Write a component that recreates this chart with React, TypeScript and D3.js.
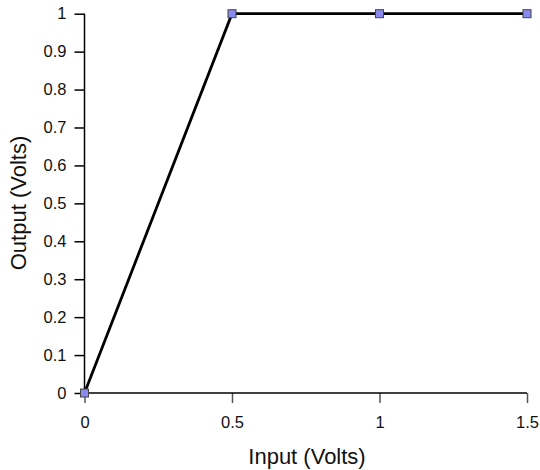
import React, { useEffect, useRef } from 'react'
import * as d3 from 'd3'

const inputVolts = [0, 0.5, 1, 1.5]
const outputVolts = [0, 1, 1, 1]
const xTicks = [0, 0.5, 1, 1.5]
const yTicks = [0, 0.1, 0.2, 0.3, 0.4, 0.5, 0.6, 0.7, 0.8, 0.9, 1]

const width = 540
const height = 470
const margin = { left: 84.5, right: 13, top: 13.7, bottom: 77 }

export default function App() {
  const ref = useRef<SVGSVGElement>(null)

  useEffect(() => {
    const svg = d3.select(ref.current)
    svg.selectAll('*').remove()

    const x = d3.scaleLinear().domain([0, 1.5]).range([margin.left, width - margin.right])
    const y = d3.scaleLinear().domain([0, 1]).range([height - margin.bottom, margin.top])

    const font = 'Liberation Sans, Arial, sans-serif'

    const xAxis = svg
      .append('g')
      .attr('transform', `translate(0,${y(0)})`)
      .call(d3.axisBottom(x).tickValues(xTicks).tickSize(10).tickPadding(13).tickFormat(d3.format('')))
    xAxis.selectAll('.tick line').attr('stroke', '#555').attr('stroke-width', 1.5)
    xAxis.selectAll('.tick text').attr('font-size', 16.5).attr('font-family', font).attr('fill', '#111')

    const yAxis = svg
      .append('g')
      .attr('transform', `translate(${x(0)},0)`)
      .call(d3.axisLeft(y).tickValues(yTicks).tickSize(10).tickPadding(8).tickFormat(d3.format('')))
    yAxis.selectAll('.tick line').attr('stroke', '#000').attr('stroke-width', 1.5)
    yAxis.selectAll('.tick text').attr('font-size', 16.5).attr('font-family', font).attr('fill', '#111')

    // replace default path (with outer ticks) by plain lines
    xAxis.select('.domain').remove()
    yAxis.select('.domain').remove()
    svg
      .append('line')
      .attr('x1', x(0)).attr('x2', x(1.5))
      .attr('y1', y(0)).attr('y2', y(0))
      .attr('stroke', '#000').attr('stroke-width', 1.5)
    svg
      .append('line')
      .attr('x1', x(0)).attr('x2', x(0))
      .attr('y1', y(0)).attr('y2', y(1))
      .attr('stroke', '#000').attr('stroke-width', 1.5)

    const pts = inputVolts.map((v, i) => [v, outputVolts[i]] as [number, number])

    svg
      .append('path')
      .datum(pts)
      .attr('fill', 'none')
      .attr('stroke', '#000')
      .attr('stroke-width', 2.8)
      .attr('d', d3.line<[number, number]>().x((d) => x(d[0])).y((d) => y(d[1])))

    svg
      .selectAll('rect.pt')
      .data(pts)
      .enter()
      .append('rect')
      .attr('class', 'pt')
      .attr('x', (d) => x(d[0]) - 4)
      .attr('y', (d) => y(d[1]) - 4)
      .attr('width', 8)
      .attr('height', 8)
      .attr('fill', '#8a8aee')
      .attr('stroke', '#444')
      .attr('stroke-width', 1)

    svg
      .append('text')
      .attr('x', 307)
      .attr('y', 464)
      .attr('text-anchor', 'middle')
      .attr('font-size', 22)
      .attr('font-family', font)
      .attr('fill', '#111')
      .text('Input (Volts)')

    svg
      .append('text')
      .attr('transform', `translate(26,203) rotate(-90)`)
      .attr('text-anchor', 'middle')
      .attr('font-size', 22)
      .attr('font-family', font)
      .attr('fill', '#111')
      .text('Output (Volts)')
  }, [])

  return (
    <svg
      ref={ref}
      width={width}
      height={height}
      style={{ position: 'absolute', left: 0, top: 0, background: '#fff' }}
    />
  )
}
